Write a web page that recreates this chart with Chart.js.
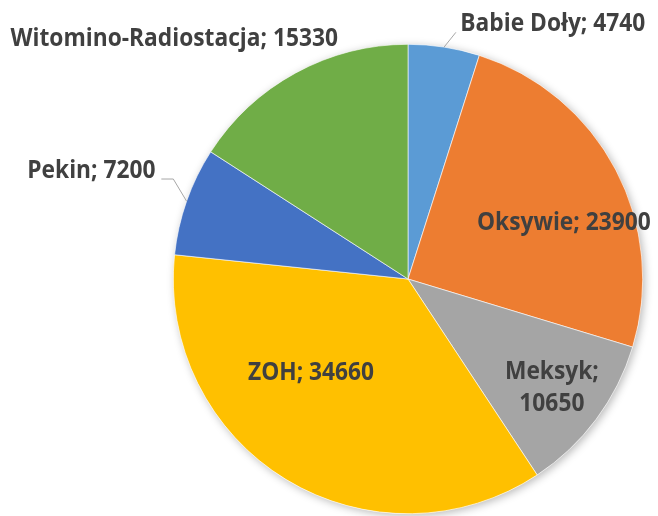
<!DOCTYPE html>
<html>
<head>
<meta charset="utf-8">
<script src="https://cdn.jsdelivr.net/npm/chart.js@4/dist/chart.umd.min.js"></script>
<style>
html,body{margin:0;padding:0;background:#fff;}
#wrap{width:658px;height:516px;position:relative;}
</style>
</head>
<body>
<div id="wrap"><canvas id="c" width="658" height="516"></canvas></div>
<script>
const categories = ['Babie Doły', 'Oksywie', 'Meksyk', 'ZOH', 'Pekin', 'Witomino-Radiostacja'];
const values = [4740, 23900, 10650, 34660, 7200, 15330];
const sliceColors = ['#5B9BD5', '#ED7D31', '#A5A5A5', '#FFC000', '#4472C4', '#70AD47'];

// label placement, in units of the pie radius relative to its centre
const labelPlacement = [
  {dx: 0.617, dy: -1.085, elbow: [0.204, -1.051], end: null, wrap: false},
  {dx: 0.664, dy: -0.238, wrap: false},
  {dx: 0.613, dy: 0.464, wrap: true},
  {dx: -0.413, dy: 0.400, wrap: false},
  {dx: -1.349, dy: -0.460, elbow: [-1.0, -0.426], end: [-1.051, -0.426], wrap: false},
  {dx: -0.996, dy: -1.021, wrap: false}
];

const FONT = 'bold 25px "Open Sans", sans-serif';
const SQUEEZE = 0.91;

const shadowPlugin = {
  id: 'pieShadow',
  beforeDatasetsDraw(chart) {
    const arc = chart.getDatasetMeta(0).data[0];
    if (!arc) return;
    const ctx = chart.ctx;
    ctx.save();
    ctx.shadowColor = 'rgba(0,0,0,0.28)';
    ctx.shadowBlur = 9;
    ctx.shadowOffsetX = 2;
    ctx.shadowOffsetY = 2;
    ctx.fillStyle = '#ffffff';
    ctx.beginPath();
    ctx.arc(arc.x, arc.y, arc.outerRadius, 0, Math.PI * 2);
    ctx.fill();
    ctx.restore();
  }
};

function drawText(ctx, text, x, y) {
  ctx.save();
  ctx.translate(x, y);
  ctx.scale(SQUEEZE, 1);
  ctx.fillText(text, 0, 0);
  ctx.restore();
}

const labelPlugin = {
  id: 'sliceLabels',
  afterDatasetsDraw(chart) {
    const meta = chart.getDatasetMeta(0);
    const ctx = chart.ctx;
    ctx.save();
    ctx.font = FONT;
    ctx.fillStyle = '#404040';
    ctx.textBaseline = 'middle';
    ctx.textAlign = 'center';
    meta.data.forEach((arc, i) => {
      const p = labelPlacement[i];
      const R = arc.outerRadius, cx = arc.x, cy = arc.y;
      const lx = cx + p.dx * R, ly = cy + p.dy * R;
      if (p.elbow) {
        const mid = (arc.startAngle + arc.endAngle) / 2;
        const sx = cx + Math.cos(mid) * R, sy = cy + Math.sin(mid) * R;
        ctx.beginPath();
        ctx.strokeStyle = '#A6A6A6';
        ctx.lineWidth = 1;
        ctx.moveTo(sx, sy);
        ctx.lineTo(cx + p.elbow[0] * R, cy + p.elbow[1] * R);
        if (p.end) ctx.lineTo(cx + p.end[0] * R, cy + p.end[1] * R);
        ctx.stroke();
      }
      if (p.wrap) {
        drawText(ctx, categories[i] + ';', lx, ly - 16);
        drawText(ctx, String(values[i]), lx, ly + 16);
      } else {
        drawText(ctx, categories[i] + '; ' + values[i], lx, ly);
      }
    });
    ctx.restore();
  }
};

new Chart(document.getElementById('c'), {
  type: 'pie',
  data: {
    labels: categories,
    datasets: [{
      data: values,
      backgroundColor: sliceColors,
      borderColor: '#ffffff',
      borderWidth: 0.6
    }]
  },
  options: {
    responsive: false,
    animation: false,
    layout: {padding: {left: 173, right: 15, top: 44, bottom: 2}},
    plugins: {legend: {display: false}, tooltip: {enabled: false}}
  },
  plugins: [shadowPlugin, labelPlugin]
});
</script>
</body>
</html>
